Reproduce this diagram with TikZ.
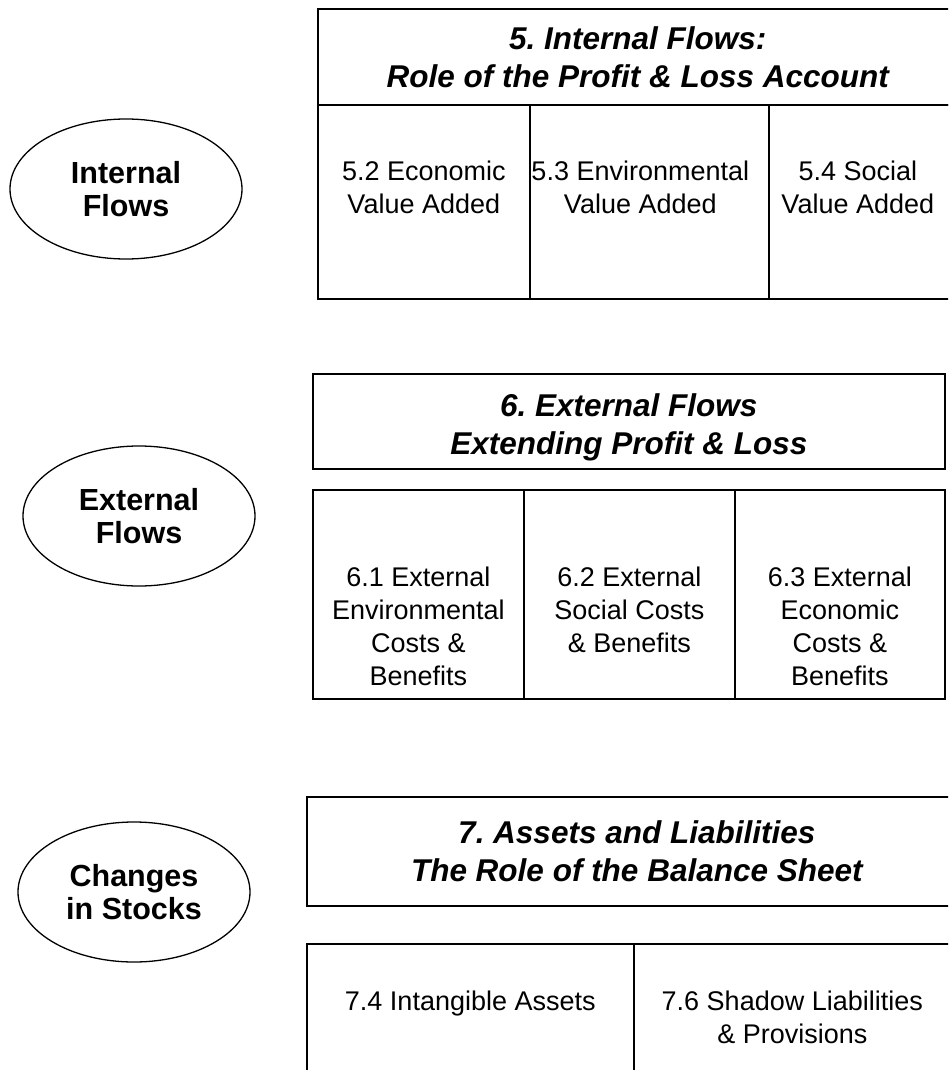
\documentclass[tikz,border=0pt]{standalone}
\usepackage{fontspec}
\setmainfont{Liberation Sans}
\frenchspacing
\usetikzlibrary{shapes.geometric}
\tikzset{
  cell/.style={draw, line width=1.6pt, inner sep=0pt, anchor=north west},
  oval/.style={draw, ellipse, line width=1.3pt, inner sep=0pt, minimum width=232pt, minimum height=140pt,
    align=center, font=\fontsize{30.5}{33}\selectfont\bfseries},
  title/.style={align=center, inner sep=0pt, font=\fontsize{31.5}{38}\selectfont\bfseries\itshape},
  body/.style={align=center, inner sep=0pt, anchor=north, font=\fontsize{27}{33}\selectfont}
}
\begin{document}
\begin{tikzpicture}[x=1pt,y=-1pt]
\useasboundingbox (0,0) rectangle (948,1070);
\clip (0,0) rectangle (948,1070);
% ---- ellipses
\node[oval] (e1) at (126,189) {Internal\\Flows};
\node[oval] (e2) at (139,516) {External\\Flows};
\node[oval] (e3) at (134,892) {Changes\\in Stocks};
% ---- box 5
\node[cell, minimum width=640pt, minimum height=96pt] (h5) at (317,8) {};
\node[cell, minimum width=212pt, minimum height=194pt] (c52) at (317,104) {};
\node[cell, minimum width=239pt, minimum height=194pt] (c53) at (529,104) {};
\node[cell, minimum width=190pt, minimum height=194pt] (c54) at (768,104) {};
\node[title] (t5) at (h5.center) {5. Internal Flows:\\Role of the Profit \& Loss Account};
\node[body] (b52) at ([yshift=-57pt]c52.north) {5.2 Economic\\Value Added};
\node[body] (b53) at ([xshift=-9pt,yshift=-57pt]c53.north) {5.3 Environmental\\Value Added};
\node[body] (b54) at ([xshift=-6pt,yshift=-57pt]c54.north) {5.4 Social\\Value Added};
% ---- box 6
\node[cell, minimum width=632pt, minimum height=95pt] (h6) at (312,373) {};
\node[cell, minimum width=211pt, minimum height=209pt] (c61) at (312,489) {};
\node[cell, minimum width=211pt, minimum height=209pt] (c62) at (523,489) {};
\node[cell, minimum width=210pt, minimum height=209pt] (c63) at (734,489) {};
\node[title] (t6) at ([yshift=-6pt]h6.center) {6. External Flows\\Extending Profit \& Loss};
\node[body] (b61) at ([yshift=-78pt]c61.north) {6.1 External\\Environmental\\Costs \&\\Benefits};
\node[body] (b62) at ([yshift=-78pt]c62.north) {6.2 External\\Social Costs\\\& Benefits};
\node[body] (b63) at ([yshift=-78pt]c63.north) {6.3 External\\Economic\\Costs \&\\Benefits};
% ---- box 7
\node[cell, minimum width=660pt, minimum height=109pt] (h7) at (306,796) {};
\node[cell, minimum width=327pt, minimum height=150pt] (c74) at (306,943) {};
\node[cell, minimum width=333pt, minimum height=150pt] (c76) at (633,943) {};
\node[title] (t7) at (h7.center) {7. Assets and Liabilities\\The Role of the Balance Sheet};
\node[body] (b74) at ([yshift=-48pt]c74.north) {7.4 Intangible Assets};
\node[body] (b76) at ([xshift=-8pt,yshift=-48pt]c76.north) {7.6 Shadow Liabilities\\\& Provisions};
\end{tikzpicture}
\end{document}
